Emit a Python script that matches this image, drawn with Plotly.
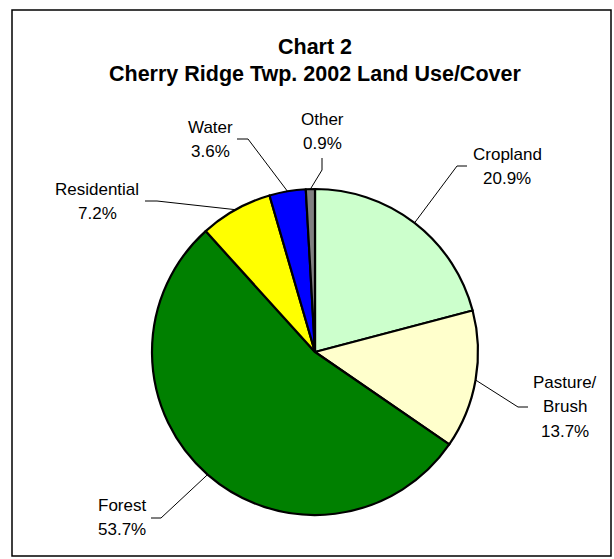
import math
import plotly.graph_objects as go

# ---- data ----
categories = ["Cropland", "Pasture/Brush", "Forest", "Residential", "Water", "Other"]
label_lines = [["Cropland"], ["Pasture/", "Brush"], ["Forest"], ["Residential"], ["Water"], ["Other"]]
values = [20.9, 13.7, 53.7, 7.2, 3.6, 0.9]
colors = ["#CCFFCC", "#FFFFCC", "#008000", "#FFFF00", "#0000FF", "#808080"]
title_lines = ["Chart 2", "Cherry Ridge Twp. 2002 Land Use/Cover"]

# ---- layout constants (pixels) ----
W, H = 614, 559
CX, CY, R = 315, 352, 163
FONT = "Liberation Sans, Arial, sans-serif"
LABEL_SIZE = 17
LINE_H = 24.5
# label block: (center x, first-line y), leader elbow, leader end
label_pos = [(507, 154), (565, 382), (122, 505), (97, 189), (210, 127), (322, 119)]
elbows = [((457, 166), (467, 166)),
          ((518, 407), (528, 407)),
          ((161, 518), (151, 518)),
          ((157, 201), (145, 201)),
          ((248, 139), (237, 139)),
          ((322, 170), (322, 158))]

fig = go.Figure()

fig.add_trace(go.Pie(
    labels=categories, values=values, sort=False, direction="clockwise", rotation=0,
    marker=dict(colors=colors, line=dict(color="black", width=2.2)),
    textinfo="none", hoverinfo="label+percent", showlegend=False,
    domain=dict(x=[(CX - R) / W, (CX + R) / W], y=[(H - CY - R) / H, (H - CY + R) / H]),
))

# invisible axes mapping pixel coordinates
fig.add_trace(go.Scatter(x=[0, W], y=[0, H], mode="markers", marker=dict(opacity=0),
                         hoverinfo="skip", showlegend=False))

shapes = []
annotations = []
total = sum(values)
cum = 0.0
for i, v in enumerate(values):
    mid = (cum + v / 2) / total * 360.0
    cum += v
    a = math.radians(mid)
    ex, ey = CX + R * math.sin(a), CY - R * math.cos(a)
    (bx, by), (tx, ty) = elbows[i]
    shapes.append(dict(type="path", xref="x", yref="y",
                       path=f"M {ex:.1f} {ey:.1f} L {bx} {by} L {tx} {ty}",
                       line=dict(color="black", width=1)))
    lx, ly = label_pos[i]
    lines = label_lines[i] + [f"{v:.1f}%"]
    for k, t in enumerate(lines):
        annotations.append(dict(x=lx, y=ly + k * LINE_H, xref="x", yref="y", text=t,
                                showarrow=False, xanchor="center", yanchor="middle",
                                font=dict(family=FONT, size=LABEL_SIZE, color="black")))

for k, t in enumerate(title_lines):
    annotations.append(dict(x=315, y=47 + k * 27, xref="x", yref="y", text=f"<b>{t}</b>",
                            showarrow=False, xanchor="center", yanchor="middle",
                            font=dict(family=FONT, size=21.5, color="black")))

shapes.append(dict(type="rect", xref="x", yref="y", x0=12, y0=10, x1=611, y1=556,
                   line=dict(color="black", width=1.5), fillcolor="rgba(0,0,0,0)"))

fig.update_layout(
    width=W, height=H, margin=dict(l=0, r=0, t=0, b=0),
    paper_bgcolor="white", plot_bgcolor="rgba(0,0,0,0)",
    xaxis=dict(range=[0, W], visible=False, fixedrange=True),
    yaxis=dict(range=[H, 0], visible=False, fixedrange=True),
    shapes=shapes, annotations=annotations,
)

fig.write_html("out.html", config={"displayModeBar": False},
               post_script="document.body.style.margin='0px';document.body.style.overflow='hidden';")
